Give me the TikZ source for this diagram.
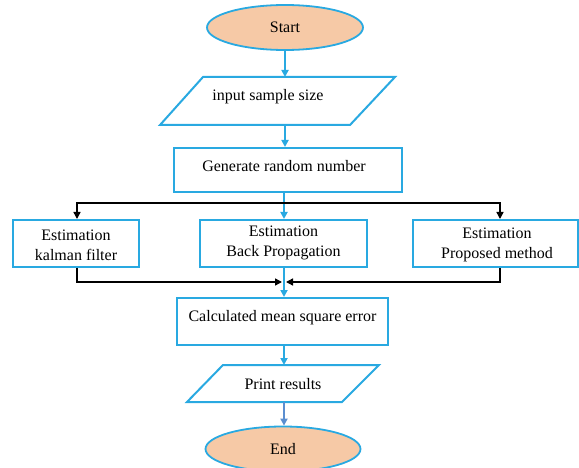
\documentclass[tikz,border=0pt]{standalone}
\usepackage{fontspec}
\setmainfont{Liberation Serif}
\usetikzlibrary{arrows.meta,shapes.geometric}
\definecolor{fblue}{HTML}{29A9E1}
\definecolor{sblue}{HTML}{5B8ED0}
\definecolor{peach}{HTML}{F6C9A6}
\begin{document}
\begin{tikzpicture}[x=1pt,y=-1pt,font=\fontsize{16}{20}\selectfont,
  box/.style={draw=fblue,line width=2pt,fill=white,inner sep=0pt,align=center},
  io/.style={draw=fblue,line width=2pt,fill=white,line join=miter},
  term/.style={draw=fblue,line width=1.8pt,fill=peach,ellipse,inner sep=0pt},
  txt/.style={inner sep=0pt,align=center},
  barrow/.style={draw=fblue,line width=1.8pt,-{Triangle[length=7pt,width=7pt]}},
  sarrow/.style={draw=sblue,line width=1.8pt,-{Triangle[length=7pt,width=7pt]}},
  karrow/.style={draw=black,line width=1.4pt,-{Triangle[length=7pt,width=7pt]}}]
\useasboundingbox (0,0) rectangle (579,468);
% Start
\node[term,minimum width=156pt,minimum height=45pt] (start) at (285,27.5) {Start};
% input parallelogram
\draw[io] (203,77) -- (395,77) -- (350,125) -- (160,125) -- cycle;
\node[txt] (inp) at (268,97) {input sample size};
\coordinate (inT) at (285,77);
\coordinate (inB) at (285,125);
% generate
\node[box,minimum width=228pt,minimum height=44pt] (gen) at (288,170) {};
\node[txt] (gent) at (284,166) {Generate random number};
% estimation boxes
\node[box,minimum width=126pt,minimum height=47pt] (kal) at (76,243.5) {};
\node[txt] (kalt) at (76,245) {Estimation\\kalman filter};
\node[box,minimum width=167pt,minimum height=47pt] (mid) at (283.5,243.5) {};
\node[txt] (midt) at (283.5,243) {Estimation\\Back Propagation};
\node[box,minimum width=165pt,minimum height=47pt] (prop) at (495.5,243.5) {};
\node[txt] (propt) at (497,245) {Estimation\\Proposed method};
% calculated
\node[box,minimum width=211pt,minimum height=47pt] (calc) at (282.5,321.5) {};
\node[txt] (calct) at (282.5,318) {Calculated mean square error};
% print parallelogram
\draw[io] (223,365) -- (379,365) -- (342,402) -- (187,402) -- cycle;
\node[txt] (prt) at (283,384) {Print results};
\coordinate (prT) at (284,365);
\coordinate (prB) at (284,402);
% End
\node[term,minimum width=155pt,minimum height=45pt] (end) at (283,449) {End};
% junctions
\coordinate (jt) at (284,203);
\coordinate (jb) at (284,282);
% connectors
\draw[barrow] (start.south) -- (inT);
\draw[barrow] (inB) -- (inB |- gen.north);
\draw[barrow] (gen.south -| jt) -- (mid.north -| jt);
\draw[karrow] (jt) -| ([xshift=1pt]kal.north);
\draw[karrow] (jt) -| ([xshift=4.5pt]prop.north);
\draw[karrow] ([xshift=1pt]kal.south) |- ([xshift=-2pt]jb);
\draw[karrow] ([xshift=4.5pt]prop.south) |- ([xshift=2pt]jb);
\draw[barrow] (mid.south -| jt) -- (calc.north -| jt);
\draw[barrow] (calc.south -| jt) -- (prT);
\draw[sarrow] (prB) -- (end.north -| prB);
\end{tikzpicture}
\end{document}
